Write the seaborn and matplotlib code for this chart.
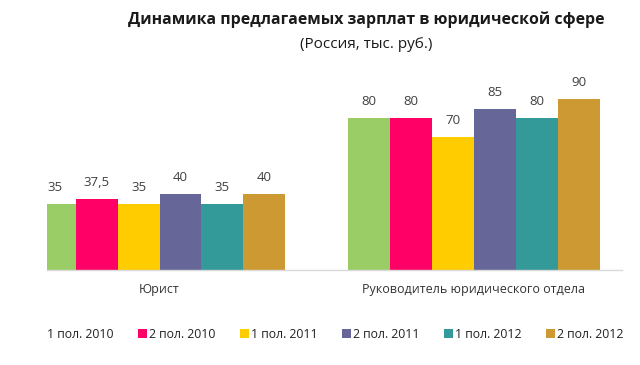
import matplotlib
matplotlib.use("Agg")
import matplotlib.pyplot as plt
import matplotlib.patches as mpatches
import seaborn as sns
import pandas as pd

categories = ["Юрист", "Руководитель юридического отдела"]
periods = ["1 пол. 2010", "2 пол. 2010", "1 пол. 2011", "2 пол. 2011", "1 пол. 2012", "2 пол. 2012"]
values_lawyer = [35, 37.5, 35, 40, 35, 40]
values_head = [80, 80, 70, 85, 80, 90]
colors = ["#9ACD65", "#FF0066", "#FFCC00", "#666699", "#339999", "#CC9933"]

rows = []
for p, v in zip(periods, values_lawyer):
    rows.append({"cat": categories[0], "period": p, "val": v})
for p, v in zip(periods, values_head):
    rows.append({"cat": categories[1], "period": p, "val": v})
df = pd.DataFrame(rows)

sns.set_theme(style="white")
plt.rcParams["font.family"] = ["Open Sans", "DejaVu Sans"]

fig = plt.figure(figsize=(6.4, 3.65), dpi=100)
ax = fig.add_axes([47/640, 95/365, 575/640, 190/365])

sns.barplot(data=df, x="cat", y="val", hue="period", order=categories,
            hue_order=periods, palette=colors, width=0.8, saturation=1,
            ax=ax, legend=False, linewidth=0, errorbar=None)

for cont in ax.containers:
    labels = [("%g" % b.get_height()).replace(".", ",") for b in cont]
    ax.bar_label(cont, labels=labels, padding=7, fontsize=9.5, color="#404040")

ax.set_xlim(-0.358, 1.471)
ax.set_ylim(0, 100)
ax.set_yticks([])
ax.set_xlabel("")
ax.set_ylabel("")
for s in ["top", "right", "left"]:
    ax.spines[s].set_visible(False)
ax.spines["bottom"].set_color("#D9D9D9")
ax.spines["bottom"].set_linewidth(1)
ax.tick_params(axis="x", length=0, pad=9, labelsize=9, labelcolor="#333333")

fig.text(366/640, 1 - 20/365, "Динамика предлагаемых зарплат в юридической сфере",
         ha="center", va="center", fontsize=11.4, fontweight="bold", color="#1a1a1a")
fig.text(366/640, 1 - 45/365, "(Россия, тыс. руб.)",
         ha="center", va="center", fontsize=11, color="#1a1a1a")

handles = [mpatches.Patch(facecolor=c, edgecolor="none") for c in colors]
handles[0] = mpatches.Patch(facecolor="none", edgecolor="none")
fig.legend(handles, periods, loc="center", bbox_to_anchor=(330/640, 1 - 334/365),
           ncol=6, frameon=False, fontsize=8.8, handlelength=0.7, handleheight=0.7,
           handletextpad=0.2, columnspacing=2.0, labelcolor="#222222")

fig.savefig("out.png", dpi=100)
